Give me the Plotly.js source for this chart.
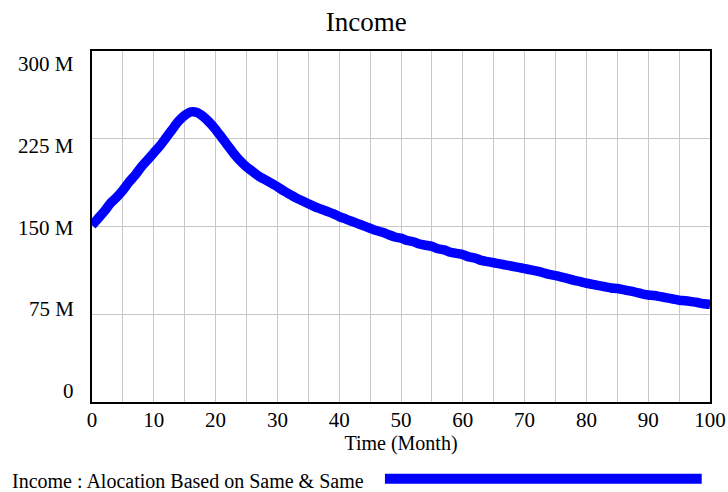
<!DOCTYPE html>
<html>
<head>
<meta charset="utf-8">
<script src="https://cdn.plot.ly/plotly-3.0.1.min.js"></script>
<style>html,body{margin:0;padding:0;background:#fff;}#chart{width:728px;height:492px;}</style>
</head>
<body>
<div id="chart"></div>
<script>
// Time (Month)
const months = [];
for (let i = 0; i <= 100; i++) months.push(i);
// Income (millions)
const incomeM = [
151,157,163,170,175,181,188,194,201,207,
213,219,226,233,240,245,248,247.5,244,239,
233,226,219,212,206,201,197,193,190,187,
184,180.5,177.5,174.5,172,169.5,167,165,163,161,
158.5,156.5,154.5,152.5,150.5,148.5,146.5,145,143,141,
140,138,137,135,134,133,131,130,128,127,
126,124,123,121,120,119,118,117,116,115,
114,113,111.8,110.5,109,108,106.8,105.5,104,102.8,
101.5,100.5,99.5,98.5,97.5,97,96,95,93.8,92.5,
91.5,91,90,89,88,87,86.5,85.8,85,84,
83.5];
const income = incomeM.map(v => v * 1e6);

const yTickVals = [0, 75e6, 150e6, 225e6, 300e6];
const yTickText = ['0', '75 M', '150 M', '225 M', '300 M'];
const xTickVals = [0,10,20,30,40,50,60,70,80,90,100];
const seriesName = 'Income : Alocation Based on Same & Same';
const serif = 'Liberation Serif, Times New Roman, serif';

// y label positions (Vensim spreads labels evenly inside the frame)
const yLabelPos = [0.031, 0.264, 0.497, 0.730, 0.963];

const annotations = yTickText.map((t, i) => ({
  text: t, xref: 'paper', yref: 'paper', x: -0.026, y: yLabelPos[i],
  xanchor: 'right', yanchor: 'middle', showarrow: false,
  font: {family: serif, size: 21, color: '#000'}
}));
annotations.push({
  text: seriesName, xref: 'paper', yref: 'paper',
  x: -0.132, y: -0.224, xanchor: 'left', yanchor: 'middle', showarrow: false,
  font: {family: serif, size: 20, color: '#000'}
});

const trace = {
  x: months, y: income, type: 'scatter', mode: 'lines',
  name: seriesName,
  line: {color: '#0000ff', width: 9.5, shape: 'spline', smoothing: 0.6},
  showlegend: false
};

const layout = {
  width: 728, height: 492,
  margin: {l: 92, r: 18, t: 51, b: 90},
  paper_bgcolor: '#fff', plot_bgcolor: '#fff',
  title: {text: 'Income', font: {family: serif, size: 27, color: '#000'},
          x: 0.503, xanchor: 'center', y: 0.957, yanchor: 'middle', yref: 'container', xref: 'container'},
  xaxis: {
    range: [0, 100], tickvals: xTickVals, ticktext: xTickVals.map(String),
    showgrid: true, gridcolor: '#c8c8c8', gridwidth: 1,
    minor: {dtick: 5, tick0: 0, showgrid: true, gridcolor: '#c8c8c8', gridwidth: 1},
    showline: true, linecolor: '#000', linewidth: 2, mirror: true,
    ticks: '', ticklabelstandoff: -2,
    tickfont: {family: serif, size: 21, color: '#000'},
    zeroline: false,
    title: {text: 'Time (Month)', font: {family: serif, size: 20, color: '#000'}, standoff: 2}
  },
  yaxis: {
    range: [0, 300e6], tickvals: yTickVals, ticktext: yTickText,
    showticklabels: false,
    showgrid: true, gridcolor: '#c8c8c8', gridwidth: 1,
    showline: true, linecolor: '#000', linewidth: 2, mirror: true,
    ticks: '', zeroline: false
  },
  shapes: [{
    type: 'line', xref: 'paper', yref: 'paper',
    x0: 0.474, x1: 0.9866, y0: -0.2185, y1: -0.2185,
    line: {color: '#0000ff', width: 10}
  }],
  annotations: annotations
};

Plotly.newPlot('chart', [trace], layout, {displayModeBar: false, staticPlot: true});
</script>
</body>
</html>
